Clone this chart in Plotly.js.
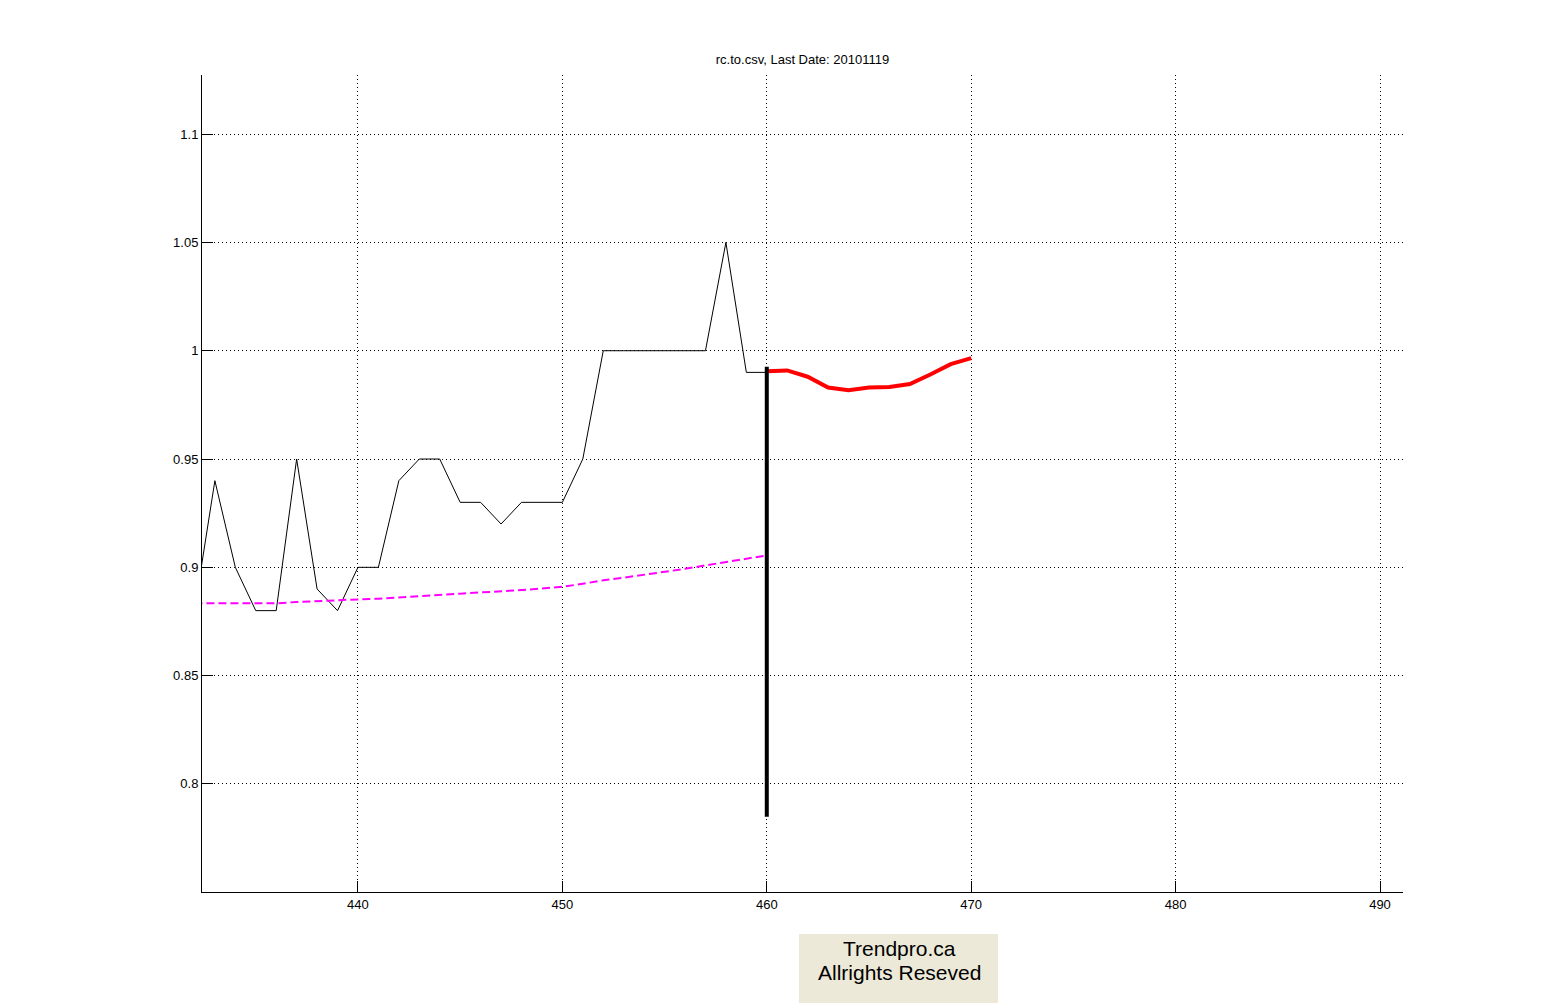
<!DOCTYPE html>
<html>
<head>
<meta charset="utf-8">
<script src="https://cdn.plot.ly/plotly-3.0.1.min.js"></script>
<style>html,body{margin:0;padding:0;background:#fff;}#chart{width:1550px;height:1003px;}</style>
</head>
<body>
<div id="chart"></div>
<script>
// Price series (black)
const priceX = [432,433,434,435,436,437,438,439,440,441,442,443,444,445,446,447,448,449,450,451,452,453,454,455,456,457,458,459,460];
const priceY = [0.88,0.94,0.90,0.88,0.88,0.95,0.89,0.88,0.90,0.90,0.94,0.95,0.95,0.93,0.93,0.92,0.93,0.93,0.93,0.95,1.00,1.00,1.00,1.00,1.00,1.00,1.05,0.99,0.99];
// Moving average (magenta dashed)
const avgX = priceX;
const avgY = [0.8834,0.8834,0.8834,0.8833,0.8834,0.8840,0.8845,0.8849,0.8852,0.8855,0.8860,0.8866,0.8871,0.8878,0.8884,0.8888,0.8895,0.8902,0.8910,0.8924,0.8940,0.8952,0.8965,0.8979,0.8993,0.9009,0.9025,0.9040,0.9055];
// Forecast (red)
const fcX = [460,461,462,463,464,465,466,467,468,469,470];
const fcY = [0.9905,0.9909,0.9880,0.9830,0.9818,0.9830,0.9833,0.9846,0.9890,0.9938,0.9966];
// Vertical marker at last date
const markX = [460,460];
const markY = [0.7848,0.9926];
// Axis ticks
const xTicks = [440,450,460,470,480,490];
const yTicks = [0.8,0.85,0.9,0.95,1,1.05,1.1];
const yTickText = ['0.8','0.85','0.9','0.95','1','1.05','1.1'];
const titleText = 'rc.to.csv, Last Date: 20101119';
const noteLines = ['Trendpro.ca','Allrights Reseved'];

const FONT = 'Liberation Sans, Arial, Helvetica, sans-serif';

const traces = [
  {x: priceX, y: priceY, mode: 'lines', line: {color: '#000000', width: 1}, hoverinfo: 'skip'},
  {x: avgX, y: avgY, mode: 'lines', line: {color: '#FF00FF', width: 2, dash: '8px,4px'}, hoverinfo: 'skip'},
  {x: fcX, y: fcY, mode: 'lines', line: {color: '#FF0000', width: 4}, hoverinfo: 'skip'},
  {x: markX, y: markY, mode: 'lines', line: {color: '#000000', width: 4}, hoverinfo: 'skip'}
];

const layout = {
  width: 1550, height: 1003,
  margin: {l: 202, r: 147, t: 75, b: 111, pad: 0},
  paper_bgcolor: '#ffffff', plot_bgcolor: '#ffffff',
  showlegend: false,
  font: {family: FONT, size: 13, color: '#000000'},
  title: {text: titleText, font: {family: FONT, size: 13, color: '#000000'},
          xref: 'paper', x: 0.5, xanchor: 'center', yref: 'container', y: 1 - 59/1003, yanchor: 'middle'},
  xaxis: {
    range: [432.37, 491.125], tickmode: 'array', tickvals: xTicks, ticktext: xTicks.map(String),
    showline: true, linecolor: '#000000', linewidth: 1, mirror: false,
    ticks: 'inside', ticklen: 11, tickcolor: '#000000', tickwidth: 1,
    showgrid: true, gridcolor: '#000000', gridwidth: 1, griddash: '1px,3px',
    zeroline: false, tickfont: {family: FONT, size: 13, color: '#000000'}
  },
  yaxis: {
    range: [0.7501, 1.1273], tickmode: 'array', tickvals: yTicks, ticktext: yTickText,
    showline: true, linecolor: '#000000', linewidth: 1, mirror: false,
    ticks: 'inside', ticklen: 11, tickcolor: '#000000', tickwidth: 1,
    showgrid: true, gridcolor: '#000000', gridwidth: 1, griddash: '1px,3px',
    zeroline: false, tickfont: {family: FONT, size: 13, color: '#000000'},
    ticklabelstandoff: 0
  },
  shapes: [{
    type: 'rect', xref: 'paper', yref: 'paper',
    x0: (799-202)/1201, x1: (998-202)/1201, y0: (892-1010)/817, y1: (892-934)/817,
    fillcolor: '#ECE9D8', line: {width: 0}, layer: 'above'
  }],
  annotations: [
    {xref: 'paper', yref: 'paper', x: (899-202)/1201, y: (892-948)/817,
     xanchor: 'center', yanchor: 'middle', showarrow: false,
     text: noteLines[0], font: {family: FONT, size: 21, color: '#000000'}},
    {xref: 'paper', yref: 'paper', x: (899-202)/1201, y: (892-972)/817,
     xanchor: 'center', yanchor: 'middle', showarrow: false,
     text: noteLines[1], font: {family: FONT, size: 21, color: '#000000'}}
  ]
};

Plotly.newPlot('chart', traces, layout, {displayModeBar: false, staticPlot: true});
</script>
</body>
</html>
